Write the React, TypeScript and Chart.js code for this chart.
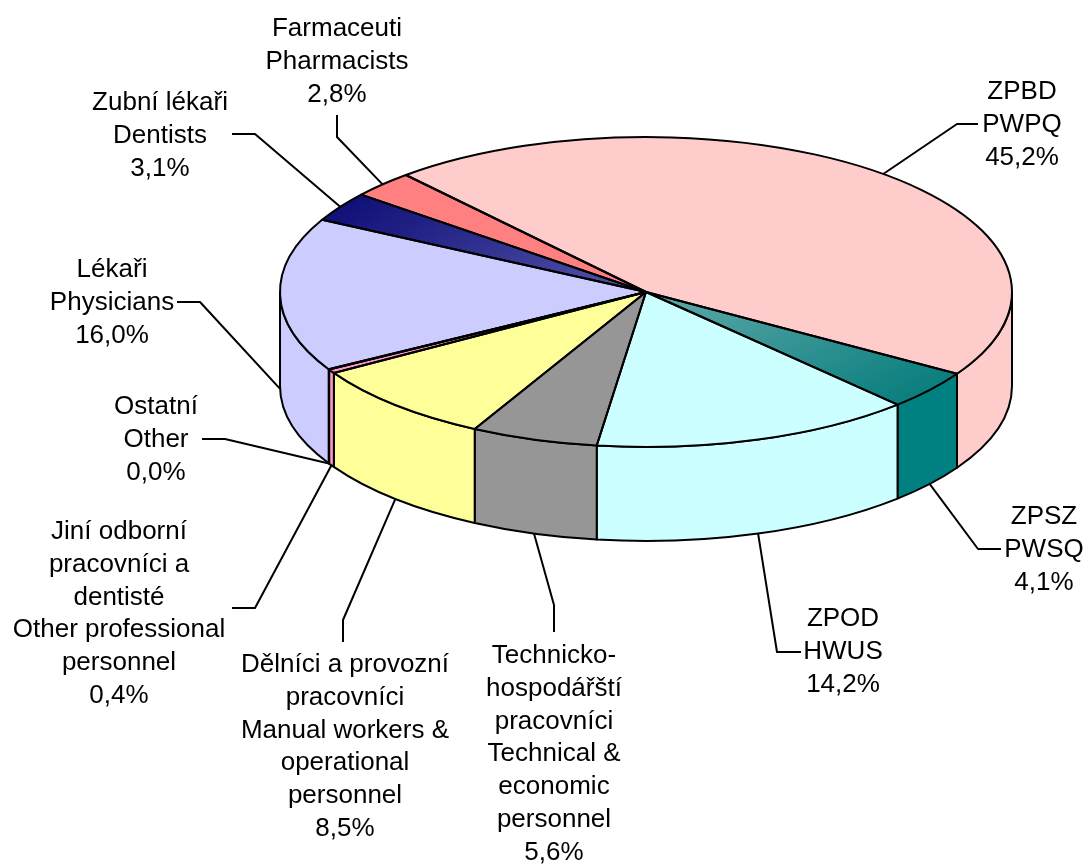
import React, { useEffect, useRef } from "react";
import { Chart, registerables } from "chart.js";

Chart.register(...registerables);

// ---- data ----
const categories: string[] = [
  "ZPBD\nPWPQ",
  "ZPSZ\nPWSQ",
  "ZPOD\nHWUS",
  "Technicko-\nhospodářští\npracovníci\nTechnical &\neconomic\npersonnel",
  "Dělníci a provozní\npracovníci\nManual workers &\noperational\npersonnel",
  "Jiní odborní\npracovníci a\ndentisté\nOther professional\npersonnel",
  "Ostatní\nOther",
  "Lékaři\nPhysicians",
  "Zubní lékaři\nDentists",
  "Farmaceuti\nPharmacists",
];
// shares in % (Ostatní is shown as 0,0 %, a tiny non-zero share)
const shares: number[] = [45.2, 4.1, 14.2, 5.6, 8.5, 0.4, 0.04, 16.0, 3.1, 2.8];

// ---- styles ----
const topColors: string[] = [
  "#FFCCCC", "#2A8F8F", "#CCFFFF", "#969696", "#FFFF99",
  "#FF99CC", "#800080", "#CCCCFF", "#2A2A90", "#FF8080",
];
const sideColors: string[] = [
  "#FFCCCC", "#008080", "#CCFFFF", "#969696", "#FFFF99",
  "#FF99CC", "#800080", "#CCCCFF", "#000080", "#FF8080",
];
const gradientStops: Record<number, [string, string]> = {
  1: ["#62AAAA", "#0A7E7E"],
  8: ["#5656AC", "#101078"],
};

// ---- layout ----
const W = 1088;
const H = 866;
const CX = 646;
const CY = 292;
const RX = 366;
const RY = 155;
const DEPTH = 94;
const FONT = '26px "Liberation Sans", Arial, sans-serif';
const LINE_H = 32.8;

type LabelLayout = { x: number; y: number; attach: [number, number]; elbow: [number, number] };
const labelLayout: LabelLayout[] = [
  { x: 1022, y: 99, attach: [978, 124], elbow: [957, 124] },
  { x: 1044, y: 524, attach: [1001, 549], elbow: [978, 549] },
  { x: 843, y: 626, attach: [801, 652], elbow: [777, 652] },
  { x: 554, y: 663, attach: [554, 632], elbow: [554, 605] },
  { x: 345, y: 672, attach: [343, 642], elbow: [343, 620] },
  { x: 119, y: 539, attach: [232, 608], elbow: [255, 608] },
  { x: 156, y: 414, attach: [202, 439], elbow: [225, 439] },
  { x: 112, y: 277, attach: [177, 302], elbow: [200, 302] },
  { x: 160, y: 110, attach: [232, 134], elbow: [255, 134] },
  { x: 337, y: 36, attach: [337, 115], elbow: [337, 137] },
];

const fmt = (v: number) => v.toFixed(1).replace(".", ",") + "%";

function drawSide(ctx: CanvasRenderingContext2D, lo: number, hi: number, color: string) {
  ctx.beginPath();
  ctx.ellipse(CX, CY, RX, RY, 0, lo, hi, false);
  ctx.lineTo(CX + RX * Math.cos(hi), CY + RY * Math.sin(hi) + DEPTH);
  ctx.ellipse(CX, CY + DEPTH, RX, RY, 0, hi, lo, true);
  ctx.closePath();
  ctx.fillStyle = color;
  ctx.fill();
  ctx.lineWidth = 2;
  ctx.strokeStyle = "#000";
  ctx.lineJoin = "round";
  ctx.stroke();
}

const pie3d = {
  id: "pie3d",
  beforeDatasetsDraw(chart: any) {
    const ctx: CanvasRenderingContext2D = chart.ctx;
    const meta = chart.getDatasetMeta(0);
    ctx.save();
    meta.data.forEach((arc: any, i: number) => {
      const s = arc.startAngle;
      const e = arc.endAngle;
      for (let k = -1; k <= 1; k++) {
        const lo = Math.max(s, 2 * Math.PI * k);
        const hi = Math.min(e, 2 * Math.PI * k + Math.PI);
        if (hi - lo > 1e-7) drawSide(ctx, lo, hi, sideColors[i]);
      }
    });
    const a0 = meta.data[0];
    const r = a0.outerRadius;
    ctx.translate(CX, CY);
    ctx.scale(RX / r, RY / r);
    ctx.translate(-a0.x, -a0.y);
  },
  afterDatasetsDraw(chart: any) {
    const ctx: CanvasRenderingContext2D = chart.ctx;
    ctx.restore();
    const meta = chart.getDatasetMeta(0);
    ctx.save();
    ctx.lineWidth = 2;
    ctx.strokeStyle = "#000";
    ctx.lineJoin = "round";
    meta.data.forEach((arc: any) => {
      const s = arc.startAngle;
      const e = arc.endAngle;
      ctx.beginPath();
      ctx.moveTo(CX, CY);
      ctx.lineTo(CX + RX * Math.cos(s), CY + RY * Math.sin(s));
      ctx.ellipse(CX, CY, RX, RY, 0, s, e, false);
      ctx.closePath();
      ctx.stroke();
    });
    // labels + leader lines
    ctx.font = FONT;
    ctx.fillStyle = "#000";
    ctx.textAlign = "center";
    ctx.textBaseline = "alphabetic";
    meta.data.forEach((arc: any, i: number) => {
      const L = labelLayout[i];
      const mid = (arc.startAngle + arc.endAngle) / 2;
      const sn = Math.sin(mid);
      const px = CX + RX * Math.cos(mid);
      const py = CY + RY * sn + (sn > 0 ? DEPTH : 0);
      ctx.beginPath();
      ctx.moveTo(L.attach[0], L.attach[1]);
      ctx.lineTo(L.elbow[0], L.elbow[1]);
      ctx.lineTo(px, py);
      ctx.lineWidth = 2;
      ctx.stroke();
      const lines = categories[i].split("\n").concat([fmt(shares[i])]);
      lines.forEach((t, j) => ctx.fillText(t, L.x, L.y + j * LINE_H));
    });
    ctx.restore();
  },
};

export default function App() {
  const ref = useRef<HTMLCanvasElement | null>(null);
  useEffect(() => {
    if (!ref.current) return;
    const chart = new Chart(ref.current, {
      type: "pie",
      data: {
        labels: categories.map((c) => c.replace(/\n/g, " ")),
        datasets: [
          {
            data: shares,
            borderWidth: 0,
            hoverOffset: 0,
            clip: false as any,
            backgroundColor: (c: any) => {
              const i = c.dataIndex;
              const stops = gradientStops[i];
              const area = c.chart.chartArea;
              if (!stops || !area) return topColors[i];
              const x = (area.left + area.right) / 2;
              const y = (area.top + area.bottom) / 2;
              const r = Math.min(area.right - area.left, area.bottom - area.top) / 2;
              const g = c.chart.ctx.createRadialGradient(x, y, 0, x, y, r);
              g.addColorStop(0, stops[0]);
              g.addColorStop(1, stops[1]);
              return g;
            },
          },
        ],
      },
      options: {
        responsive: false,
        animation: false,
        events: [],
        rotation: -41,
        layout: { padding: 0 },
        plugins: { legend: { display: false }, tooltip: { enabled: false } },
      },
      plugins: [pie3d],
    });
    return () => chart.destroy();
  }, []);
  return (
    <div style={{ position: "fixed", left: 0, top: 0, width: W, height: H, background: "#fff" }}>
      <canvas ref={ref} width={W} height={H} style={{ display: "block" }} />
    </div>
  );
}
